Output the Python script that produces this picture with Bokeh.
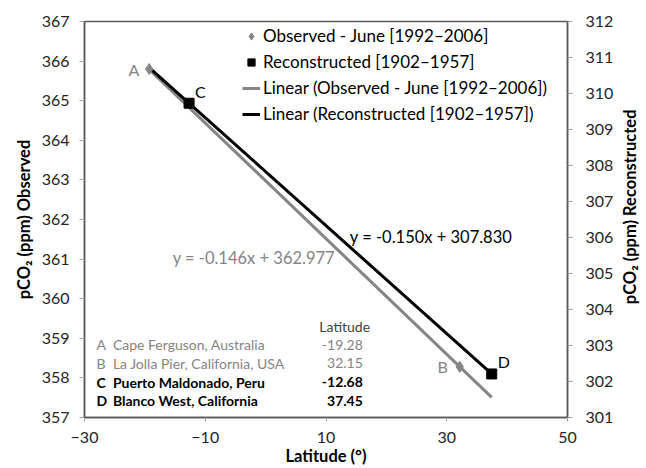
import math
from bokeh.plotting import figure
from bokeh.layouts import row
from bokeh.models import (Range1d, LinearAxis, FixedTicker, ColumnDataSource,
                          Legend, LegendItem, Label)
from bokeh.core.properties import value
from bokeh.embed import file_html
from bokeh.resources import INLINE

# ---------------- data ----------------
obs_sites = ["A", "B"]
obs_names = ["Cape Ferguson, Australia", "La Jolla Pier, California, USA"]
obs_lat = [-19.28, 32.15]
obs_pco2 = [365.80, 358.28]

rec_sites = ["C", "D"]
rec_names = ["Puerto Maldonado,  Peru", "Blanco West, California"]
rec_lat = [-12.68, 37.45]
rec_pco2 = [309.73, 302.21]

obs_slope, obs_intercept = -0.146, 362.977
rec_slope, rec_intercept = -0.150, 307.830

x_ticks = [-30, -10, 10, 30, 50]
left_ticks = list(range(357, 368))
right_ticks = list(range(301, 313))

obs_label = "Observed - June [1992\u20132006]"
rec_label = "Reconstructed [1902\u20131957]"
right_title = "pCO\u2082 (ppm) Reconstructed"

# ---------------- styling ----------------
FONT = "Lato"
GRAY = "#858585"
AXIS_COL = "#595959"
TICK_COL = "#a0a0a0"

p = figure(width=616, height=468, x_range=Range1d(-30, 50), y_range=Range1d(357, 367),
           output_backend="svg", toolbar_location=None,
           min_border_left=84, min_border_top=21, min_border_right=49, min_border_bottom=51)
p.extra_y_ranges = {"rec": Range1d(301, 312)}
p.xgrid.visible = False
p.ygrid.visible = False
p.outline_line_color = AXIS_COL
p.outline_line_width = 1.5
p.background_fill_color = "white"
p.border_fill_color = "white"

# axes
xa = p.xaxis[0]
xa.ticker = FixedTicker(ticks=x_ticks)
xa.axis_label = "Latitude (\u00b0)"
ya = p.yaxis[0]
ya.ticker = FixedTicker(ticks=left_ticks)
ya.axis_label = "pCO\u2082 (ppm) Observed"
ra = LinearAxis(y_range_name="rec", ticker=FixedTicker(ticks=right_ticks))
p.add_layout(ra, "right")

for ax in (xa, ya, ra):
    ax.axis_line_color = AXIS_COL
    ax.axis_line_width = 1.5
    ax.major_tick_line_color = TICK_COL
    ax.major_tick_out = 5
    ax.major_tick_in = 0
    ax.minor_tick_line_color = None
    ax.major_label_text_font = FONT
    ax.major_label_text_font_size = "16px"
    ax.major_label_text_color = "#262626"
    ax.axis_label_text_font = FONT
    ax.axis_label_text_font_size = "16.5px"
    ax.axis_label_text_font_style = "bold"
    ax.axis_label_text_color = "#000000"

xa.major_tick_out = 4
xa.major_label_standoff = 10
xa.axis_label_standoff = 0
ya.major_label_standoff = 10
ya.axis_label_standoff = 5
ra.major_label_standoff = 13

# ---------------- trend lines ----------------
all_lat = obs_lat + rec_lat
x_line = [min(all_lat), max(all_lat)]
obs_line = p.line(x_line, [obs_slope * x + obs_intercept for x in x_line],
                  line_color=GRAY, line_width=3)
rec_line = p.line(x_line, [rec_slope * x + rec_intercept for x in x_line],
                  line_color="black", line_width=3, y_range_name="rec")

# ---------------- points ----------------
obs_src = ColumnDataSource(dict(x=obs_lat, y=obs_pco2, site=obs_sites))
rec_src = ColumnDataSource(dict(x=rec_lat, y=rec_pco2, site=rec_sites))
obs_pts = p.scatter("x", "y", source=obs_src, marker="diamond", size=11,
                    fill_color=GRAY, line_color=GRAY)
rec_pts = p.scatter("x", "y", source=rec_src, marker="square", size=10,
                    fill_color="black", line_color="black", y_range_name="rec")

# point letters
p.text("x", "y", text="site", source=ColumnDataSource(dict(x=obs_lat[:1], y=obs_pco2[:1], site=obs_sites[:1])),
       x_offset=-10, y_offset=0, text_align="right", text_baseline="middle",
       text_font=value(FONT), text_font_size="16px", text_color=GRAY)
p.text("x", "y", text="site", source=ColumnDataSource(dict(x=obs_lat[1:], y=obs_pco2[1:], site=obs_sites[1:])),
       x_offset=-12, y_offset=0, text_align="right", text_baseline="middle",
       text_font=value(FONT), text_font_size="16px", text_color=GRAY)
p.text("x", "y", text="site", source=rec_src, x_offset=6, y_offset=-12,
       text_align="left", text_baseline="middle", y_range_name="rec",
       text_font=value(FONT), text_font_size="16px", text_color="black")

# equations
p.add_layout(Label(x=-15.4, y=361.02, text="y = -0.146x + 362.977", text_font=FONT,
                   text_font_size="16.5px", text_color=GRAY, text_baseline="middle"))
p.add_layout(Label(x=13.95, y=361.55, text="y = -0.150x + 307.830", text_font=FONT,
                   text_font_size="16.5px", text_color="black", text_baseline="middle"))

# ---------------- site table ----------------
tx_letter, tx_name, tx_val = -28.0, -25.3, 16.1
ty0, tdy = 358.84, -0.472
rows_y_obs = [ty0 + i * tdy for i in range(2)]
rows_y_rec = [ty0 + (i + 2) * tdy for i in range(2)]
p.add_layout(Label(x=(tx_val - 3.0), y=ty0 - tdy * 0.95, text="Latitude", text_font=FONT,
                   text_font_size="14px", text_color="#404040",
                   text_align="center", text_baseline="middle"))
for ys, sites, names, lats, col, style in (
        (rows_y_obs, obs_sites, obs_names, obs_lat, GRAY, "normal"),
        (rows_y_rec, rec_sites, rec_names, rec_lat, "black", "bold")):
    src = ColumnDataSource(dict(xl=[tx_letter] * 2, xn=[tx_name] * 2, xv=[tx_val] * 2, y=ys,
                                site=sites, name=names,
                                val=[f"{v:.2f}" for v in lats]))
    common = dict(source=src, text_baseline="middle", text_font=value(FONT),
                  text_font_size="14px", text_color=col, text_font_style=style)
    p.text("xl", "y", text="site", text_align="left", **common)
    p.text("xn", "y", text="name", text_align="left", **common)
    p.text("xv", "y", text="val", text_align="right", **common)

# ---------------- legend ----------------
legend = Legend(items=[
    LegendItem(label=obs_label, renderers=[obs_pts]),
    LegendItem(label=rec_label, renderers=[rec_pts]),
    LegendItem(label="Linear (" + obs_label + ")", renderers=[obs_line]),
    LegendItem(label="Linear (" + rec_label + ")", renderers=[rec_line]),
], location=(158, 293), orientation="vertical")
legend.border_line_color = None
legend.background_fill_alpha = 0
legend.padding = 0
legend.margin = 0
legend.spacing = 5
legend.glyph_width = 18
legend.glyph_height = 20
legend.label_height = 20
legend.label_standoff = 3
legend.label_text_font = FONT
legend.label_text_font_size = "17px"
legend.label_text_color = "#000000"
legend.label_text_baseline = "middle"
p.add_layout(legend)

# ---------------- right-hand axis title (bottom-to-top) ----------------
side = figure(width=30, height=468, x_range=Range1d(0, 30), y_range=Range1d(0, 468),
              output_backend="svg", toolbar_location=None, min_border=0)
side.axis.visible = False
side.xgrid.visible = False
side.ygrid.visible = False
side.outline_line_color = None
side.background_fill_color = "white"
side.border_fill_color = "white"
side.text(x=[13], y=[249], text=[right_title], angle=math.pi / 2,
          text_align="center", text_baseline="middle", text_font=value(FONT),
          text_font_size="16.5px", text_font_style="bold", text_color="#000000")

layout = row(p, side)
open("out.html", "w").write(file_html(layout, INLINE))
